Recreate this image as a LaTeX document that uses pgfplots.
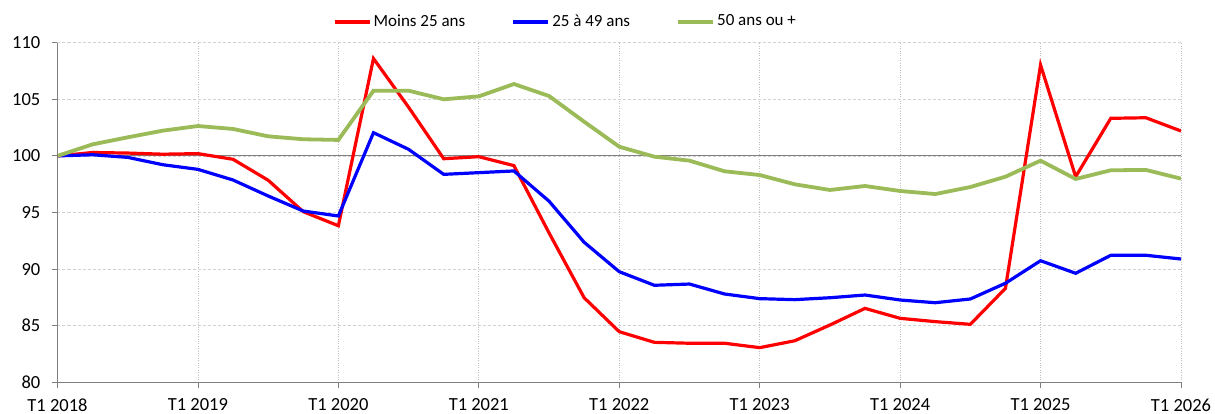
\documentclass[border=0pt]{standalone}
\usepackage{fontspec}
\setmainfont{Carlito}
\usepackage{pgfplots}
\usepackage{pgfplotstable}
\pgfplotsset{compat=1.18}
\definecolor{cred}{RGB}{255,0,0}
\definecolor{cblue}{RGB}{0,0,255}
\definecolor{cgreen}{RGB}{155,187,89}
\pgfplotstableread{
q red blue green
0 100 100 100
1 100.3 100.1 101.02
2 100.25 99.87 101.64
3 100.15 99.22 102.23
4 100.2 98.81 102.64
5 99.7 97.87 102.38
6 97.85 96.46 101.73
7 95.07 95.13 101.47
8 93.83 94.69 101.41
9 108.6 102.05 105.76
10 104.3 100.58 105.76
11 99.75 98.37 105.0
12 99.93 98.52 105.26
13 99.14 98.67 106.35
14 93.2 96.0 105.29
15 87.47 92.37 103.02
16 84.47 89.77 100.81
17 83.53 88.57 99.93
18 83.45 88.68 99.58
19 83.45 87.8 98.64
20 83.06 87.39 98.31
21 83.67 87.3 97.49
22 85.06 87.47 96.99
23 86.53 87.71 97.34
24 85.65 87.27 96.9
25 85.36 87.03 96.63
26 85.12 87.36 97.25
27 88.3 88.75 98.16
28 108.03 90.74 99.58
29 98.16 89.63 97.96
30 103.32 91.22 98.73
31 103.37 91.22 98.76
32 102.2 90.89 97.99
}\data
\begin{document}
\fontsize{16}{19}\selectfont
\begin{tikzpicture}
\path[use as bounding box] (-57.5pt,-31.7pt) rectangle (1157.5pt,382.3pt);
\begin{axis}[
  at={(0,0)}, anchor=south west,
  width=1123.5pt, height=339.6pt, scale only axis,
  xmin=0, xmax=32, ymin=80, ymax=110,
  ytick={80,85,...,110},
  xtick={0,4,...,32},
  xticklabels={T1 2018,T1 2019,T1 2020,T1 2021,T1 2022,T1 2023,T1 2024,T1 2025,T1 2026},
  /pgf/number format/assume math mode=true,
  ticklabel style={font=\fontsize{18.5}{22}\selectfont, text=black},
  xticklabel style={yshift=-5pt},
  yticklabel style={xshift=-6pt},
  xmajorgrids, ymajorgrids,
  y grid style={gray!35, dash pattern=on 3pt off 2pt, line width=0.7pt},
  x grid style={gray!50, dotted, line width=0.7pt},
  axis x line*=bottom, axis y line*=left,
  axis line style={gray, line width=0.8pt, -},
  tick style={gray, line width=0.8pt},
  tick align=outside, major tick length=5.7pt,
  legend style={at={(0.452,1.062)}, anchor=center, draw=none, fill=none,
    font=\fontsize{17}{20}\selectfont, legend columns=3,
    /tikz/every even column/.append style={column sep=44pt}},
  legend cell align=left,
  legend image code/.code={\draw[#1, line width=4pt] (0pt,0pt) -- (35pt,0pt);},
]
\addplot[gray, line width=0.8pt, forget plot] coordinates {(0,100) (32,100)};
\addplot[cred, line width=3.2pt] table[x=q, y=red] {\data};
\addlegendentry{Moins 25 ans}
\addplot[cblue, line width=3.2pt] table[x=q, y=blue] {\data};
\addlegendentry{25 à 49 ans}
\addplot[cgreen, line width=3.8pt] table[x=q, y=green] {\data};
\addlegendentry{50 ans ou +}
\end{axis}
\end{tikzpicture}
\end{document}
